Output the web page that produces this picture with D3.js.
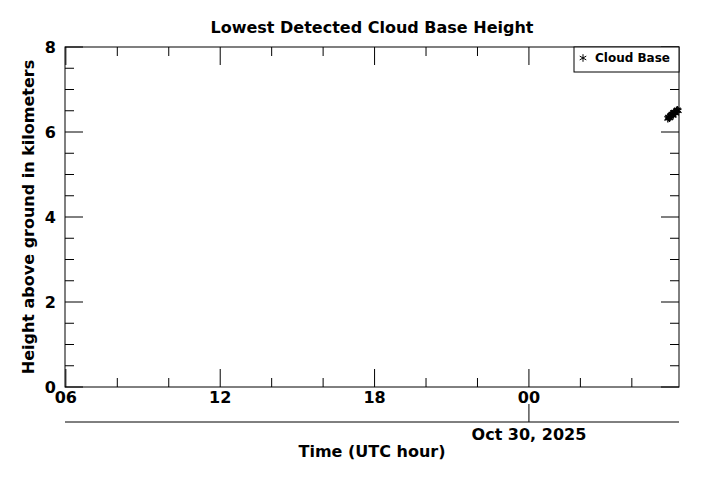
<!DOCTYPE html>
<html>
<head>
<meta charset="utf-8">
<script src="https://cdn.jsdelivr.net/npm/d3@7"></script>
<style>
  body { margin: 0; background: #fff; }
  text { font-family: "DejaVu Sans", sans-serif; font-weight: bold; fill: #000; }
</style>
</head>
<body>
<script>
// cloud base observations, Oct 30 2025 (UTC)
var obsTimes = ["05:24", "05:26", "05:28", "05:30", "05:32", "05:34", "05:36",
                "05:38", "05:40", "05:42", "05:44", "05:46", "05:48"];
var obsHeights = [6.32, 6.35, 6.33, 6.38, 6.40, 6.42, 6.39, 6.45, 6.47, 6.44, 6.50, 6.52, 6.50];

var timeStart = "2025-10-29T05:58:00Z";
var timeEnd = "2025-10-30T05:50:00Z";
var yTicks = [0, 2, 4, 6, 8];
var dateLabel = "Oct 30, 2025";

var margin = {top: 47, right: 22, bottom: 93, left: 65};
var width = 701 - margin.left - margin.right;   // 614
var height = 480 - margin.top - margin.bottom;  // 340

var svg = d3.select("body").append("svg")
    .attr("width", 701)
    .attr("height", 480);

var g = svg.append("g")
    .attr("transform", "translate(" + margin.left + "," + margin.top + ")");

var x = d3.scaleUtc()
    .domain([new Date(timeStart), new Date(timeEnd)])
    .range([0, width]);

var y = d3.scaleLinear()
    .domain([0, 8])
    .range([height, 0]);

var majorX = x.ticks(d3.utcHour.every(6));
var minorX = x.ticks(d3.utcHour.every(2)).filter(function(d) { return d.getUTCHours() % 6 != 0; });
var minorY = d3.range(0, 8.01, 0.5).filter(function(d) { return d % 2 != 0; });

// ticks on all four sides, pointing inward
function tickLines(cls, data, x1, y1, x2, y2) {
    g.selectAll("." + cls).data(data).enter().append("line")
        .attr("class", cls)
        .attr("x1", x1).attr("y1", y1)
        .attr("x2", x2).attr("y2", y2)
        .attr("stroke", "#000")
        .attr("stroke-width", 1);
}
tickLines("xmajb", majorX, function(d) { return x(d); }, height, function(d) { return x(d); }, height - 18);
tickLines("xminb", minorX, function(d) { return x(d); }, height, function(d) { return x(d); }, height - 9);
tickLines("xmajt", majorX, function(d) { return x(d); }, 0, function(d) { return x(d); }, 18);
tickLines("xmint", minorX, function(d) { return x(d); }, 0, function(d) { return x(d); }, 9);
tickLines("ymajl", yTicks, 0, function(d) { return y(d); }, 18, function(d) { return y(d); });
tickLines("yminl", minorY, 0, function(d) { return y(d); }, 9, function(d) { return y(d); });
tickLines("ymajr", yTicks, width, function(d) { return y(d); }, width - 18, function(d) { return y(d); });
tickLines("yminr", minorY, width, function(d) { return y(d); }, width - 9, function(d) { return y(d); });

g.append("rect")
    .attr("x", 0).attr("y", 0)
    .attr("width", width).attr("height", height)
    .attr("fill", "none")
    .attr("stroke", "#000")
    .attr("stroke-width", 1);

// tick labels
g.selectAll(".xlab").data(majorX).enter().append("text")
    .attr("x", function(d) { return x(d); })
    .attr("y", height + 16)
    .attr("text-anchor", "middle")
    .style("font-size", "16px")
    .text(d3.utcFormat("%H"));

g.selectAll(".ylab").data(yTicks).enter().append("text")
    .attr("x", -9)
    .attr("y", function(d) { return y(d) + 6; })
    .attr("text-anchor", "end")
    .style("font-size", "16px")
    .text(function(d) { return d; });

// date axis below
var dateY = height + 35;
g.append("line")
    .attr("x1", 0).attr("x2", width)
    .attr("y1", dateY).attr("y2", dateY)
    .attr("stroke", "#000");

var midnight = majorX.filter(function(d) { return d.getUTCHours() == 0; });
g.selectAll(".dtick").data(midnight).enter().append("line")
    .attr("x1", function(d) { return x(d); }).attr("x2", function(d) { return x(d); })
    .attr("y1", dateY).attr("y2", dateY - 18)
    .attr("stroke", "#000");

g.selectAll(".dlab").data(midnight).enter().append("text")
    .attr("x", function(d) { return x(d); })
    .attr("y", dateY + 18)
    .attr("text-anchor", "middle")
    .style("font-size", "16px")
    .text(dateLabel);

// titles
svg.append("text")
    .attr("x", margin.left + width / 2)
    .attr("y", 33)
    .attr("text-anchor", "middle")
    .style("font-size", "16px")
    .text("Lowest Detected Cloud Base Height");

svg.append("text")
    .attr("x", margin.left + width / 2)
    .attr("y", 457)
    .attr("text-anchor", "middle")
    .style("font-size", "16px")
    .text("Time (UTC hour)");

svg.append("text")
    .attr("transform", "translate(34," + (margin.top + height / 2) + ") rotate(-90)")
    .attr("text-anchor", "middle")
    .style("font-size", "16px")
    .text("Height above ground in kilometers");

// data points
var parseObs = d3.utcParse("%Y-%m-%dT%H:%M");
var points = obsTimes.map(function(t, i) {
    return {time: parseObs("2025-10-30T" + t), h: obsHeights[i]};
});

var star = d3.symbol().type(d3.symbolAsterisk || d3.symbolCross).size(44);

g.selectAll(".pt").data(points).enter().append("path")
    .attr("class", "pt")
    .attr("d", star)
    .attr("transform", function(d) { return "translate(" + x(d.time) + "," + y(d.h) + ")"; })
    .attr("fill", "none")
    .attr("stroke", "#000")
    .attr("stroke-width", 1.3);

// legend
var legend = g.append("g")
    .attr("transform", "translate(" + (width - 105) + ",0)");
legend.append("rect")
    .attr("width", 105).attr("height", 25)
    .attr("fill", "#fff")
    .attr("stroke", "#000");
legend.append("path")
    .attr("d", d3.symbol().type(d3.symbolAsterisk || d3.symbolCross).size(40))
    .attr("transform", "translate(9,11)")
    .attr("fill", "none")
    .attr("stroke", "#000")
    .attr("stroke-width", 1);
legend.append("text")
    .attr("x", 21)
    .attr("y", 15)
    .style("font-size", "12px")
    .text("Cloud Base");
</script>
</body>
</html>
